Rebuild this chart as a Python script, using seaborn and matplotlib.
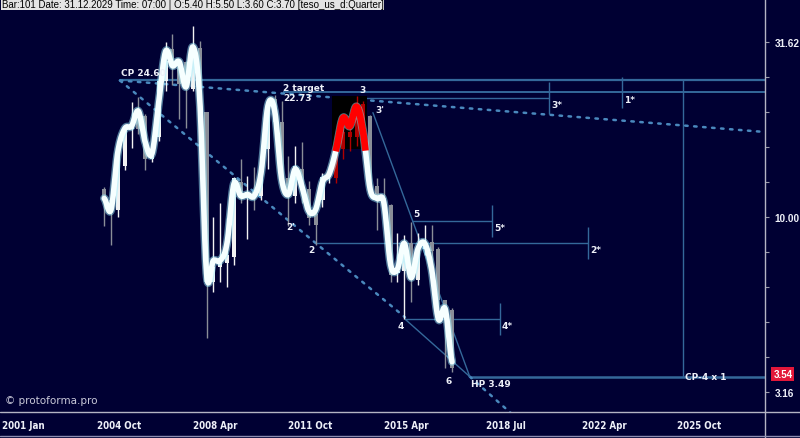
import numpy as np
import matplotlib
matplotlib.use("Agg")
import matplotlib.pyplot as plt
import seaborn as sns

# quarterly bars, x = quarter index counted from 2001 Jan
bar_idx = list(range(15, 67))
opens = [12.0, 11.2, 10.5, 14.0, 17.9, 20.1, 19.5, 14.7, 17.0, 24.5, 30.3, 27.0, 27.7, 23.3, 30.4,
         20.0, 6.5, 7.2, 7.4, 7.7, 12.6, 11.3, 11.8, 11.5, 15.7, 21.8, 18.7, 12.9, 11.5, 13.7,
         12.0, 10.2, 11.2, 13.0, 12.9, 15.7, 17.5, 17.0, 21.0, 19.4, 12.3, 11.3, 10.8, 6.9, 7.0,
         8.4, 6.6, 8.1, 8.5, 8.1, 5.8, 5.4]
highs = [12.2, 11.6, 16.0, 18.2, 21.4, 22.0, 19.7, 16.2, 24.8, 31.8, 33.4, 27.7, 28.0, 35.3, 32.0,
         20.0, 10.0, 11.0, 9.9, 13.0, 14.7, 13.1, 13.9, 14.7, 21.8, 22.3, 21.5, 14.9, 16.0, 16.4,
         12.7, 10.4, 13.4, 14.0, 16.0, 18.5, 19.5, 22.2, 21.5, 19.6, 12.9, 12.9, 10.9, 9.0, 8.9,
         9.7, 9.0, 9.5, 9.5, 8.2, 5.8, 5.5]
lows = [9.4, 8.3, 10.0, 13.6, 15.8, 17.3, 13.6, 14.4, 16.5, 23.0, 23.8, 19.1, 18.0, 23.0, 23.0,
        4.5, 6.1, 6.5, 6.3, 7.3, 11.0, 8.65, 10.5, 11.2, 13.7, 18.0, 12.5, 9.4, 11.0, 11.0,
        9.5, 8.3, 10.7, 12.5, 12.5, 14.7, 15.5, 16.0, 15.5, 11.5, 9.2, 10.5, 6.5, 6.5, 5.1,
        5.7, 6.4, 7.8, 7.2, 5.5, 3.7, 3.6]
closes = [11.2, 10.6, 15.8, 17.9, 18.5, 17.9, 14.7, 15.5, 24.5, 28.0, 27.1, 24.0, 23.3, 30.6, 23.7,
          6.5, 7.2, 7.4, 7.8, 12.9, 11.3, 11.8, 11.5, 12.9, 21.2, 18.7, 12.9, 11.5, 14.0, 12.0,
          9.9, 9.5, 13.0, 13.2, 15.7, 17.5, 17.0, 21.0, 17.0, 12.0, 11.3, 11.0, 6.8, 7.0, 8.4,
          7.0, 8.1, 8.5, 8.0, 5.8, 5.3, 3.7]
# smoothed line drawn over the candles
smooth = [11.3, 10.5, 15.4, 17.9, 18.2, 20.1, 16.4, 15.2, 21.4, 29.8, 27.1, 27.8, 23.6, 30.7, 21.8,
          6.9, 7.5, 7.5, 8.4, 12.4, 11.5, 11.6, 11.5, 13.4, 20.8, 20.1, 12.9, 11.6, 13.7, 12.2,
          10.4, 10.5, 12.6, 13.3, 15.6, 19.2, 18.2, 20.7, 17.3, 12.0, 11.3, 11.0, 7.3, 7.1, 8.4,
          6.7, 8.1, 8.4, 7.1, 5.1, 5.45, 3.85]

tick_pos = [0, 14, 28, 42, 56, 71, 85, 99]
tick_labels = ["2001 Jan", "2004 Oct", "2008 Apr", "2011 Oct", "2015 Apr", "2018 Jul", "2022 Apr", "2025 Oct"]
price_ticks = [3.16, 10.0, 31.62]
price_labels = ["3.16", "10.00", "31.62"]

# pattern points (index, price)
cp = (17.3, 24.60)
target = (41.2, 22.73)
p3 = (52.6, 21.9)
p3s = (54.4, 19.9)
p2 = (46.0, 8.42)
p4 = (59.1, 5.10)
p5 = (60.1, 9.74)
hp = (68.6, 3.49)
fan_pt = (53.5, 21.6)
star5, star4, star2, star3, star1, cp4_x = 71.9, 73.0, 85.9, 80.2, 90.9, 99.9
red_zone = (48.4, 53.5, 15.7, 22.2)
last_price = 3.54

BG = "#000033"
LINE = "#34689a"
DOT = "#4a88bd"
TXT = "#eef0f8"

sns.set_style("dark")
plt.rcParams["font.family"] = ["DejaVu Sans"]

fig = plt.figure(figsize=(8, 4.39), dpi=100, facecolor=BG)
ax = fig.add_axes([0, 26 / 439, 765 / 800, 413 / 439])
ax.set_facecolor(BG)
ax.set_yscale("log")
ax.set_xlim(-0.29, 111.9)
ax.set_ylim(2.763, 42.1)
for s in ax.spines.values():
    s.set_visible(False)
ax.grid(False)


def ext(p, q, x):
    # straight line in log space through p and q, evaluated at x
    k = (np.log10(q[1]) - np.log10(p[1])) / (q[0] - p[0])
    return 10 ** (np.log10(p[1]) + k * (x - p[0]))


# levels
ax.hlines(cp[1], cp[0], 111.9, color=LINE, lw=1.6, zorder=1)
ax.hlines(target[1], target[0], 111.9, color=LINE, lw=1.4, zorder=1)
ax.hlines(p3[1], p3[0] + 0.8, star3, color=LINE, lw=1.0, zorder=1)
ax.hlines(p5[1], p5[0], star5, color=LINE, lw=1.0, zorder=1)
ax.hlines(p2[1], p2[0], star2, color=LINE, lw=1.0, zorder=1)
ax.hlines(p4[1], p4[0], star4, color=LINE, lw=1.0, zorder=1)
ax.hlines(hp[1], hp[0], 111.9, color=LINE, lw=1.8, zorder=1)
ax.vlines(cp4_x, hp[1], cp[1], color=LINE, lw=1.0, zorder=1)
for xs, yv in [(star5, p5[1]), (star4, p4[1]), (star2, p2[1]), (star3, p3[1]), (star1, target[1])]:
    ax.vlines(xs, yv / 1.11, yv * 1.11, color=LINE, lw=1.0, zorder=1)

# fan lines
xf = np.array([cp[0], 111.9])
ax.plot(xf, ext(cp, fan_pt, xf), color=DOT, lw=1.8, ls=(0, (1, 2.6)), dash_capstyle="round", zorder=1)
xa = np.array([cp[0], p4[0]])
ax.plot(xa, ext(cp, p2, xa), color=DOT, lw=1.8, ls=(0, (1, 2.6)), dash_capstyle="round", zorder=1)
xb = np.array([p4[0], hp[0]])
ax.plot(xb, [p4[1], hp[1]], color=LINE, lw=1.0, zorder=1)
xc = np.array([hp[0], 75.4])
ax.plot(xc, ext(p4, hp, xc), color=DOT, lw=1.8, ls=(0, (1, 2.6)), dash_capstyle="round", zorder=1)
ax.plot([p3s[0], hp[0]], [p3s[1], hp[1]], color=LINE, lw=1.0, zorder=1)

# red zone box
ax.fill_between([red_zone[0], red_zone[1]], red_zone[2], red_zone[3], color="black", lw=0, zorder=1.5)

# candles
o = np.array(opens); h = np.array(highs); l = np.array(lows); c = np.array(closes)
xi = np.array(bar_idx, dtype=float)
in_red = (xi > red_zone[0]) & (xi < red_zone[1])
up = c >= o
cols = np.where(in_red, "#b00000", np.where(up, "#f2f2f2", "#8a8e98"))
ax.vlines(xi, l, h, colors=cols, lw=1.0, zorder=2)
lo = np.minimum(o, c); hi = np.maximum(o, c)
hi = np.maximum(hi, lo * 1.01)
ax.bar(xi, hi - lo, bottom=lo, width=0.6, color=cols, lw=0, zorder=2)

# smoothed curve (Catmull-Rom through the smooth values)
ly = np.log10(smooth)
ye = np.concatenate([[ly[0]], ly, [ly[-1]]])
sx, sy = [], []
for k in range(len(ly) - 1):
    p0, p1, p2_, p3_ = ye[k], ye[k + 1], ye[k + 2], ye[k + 3]
    t = np.linspace(0, 1, 16, endpoint=False)
    yy = 0.5 * (2 * p1 + (-p0 + p2_) * t + (2 * p0 - 5 * p1 + 4 * p2_ - p3_) * t ** 2
                + (-p0 + 3 * p1 - 3 * p2_ + p3_) * t ** 3)
    sx.extend(xi[k] + t)
    sy.extend(yy)
sx.append(xi[-1]); sy.append(ly[-1])
sx = np.array(sx); sy = 10 ** np.array(sy)
sns.lineplot(x=sx, y=sy, ax=ax, sort=False, estimator=None, color="#9fefff", lw=6.0, alpha=0.5, zorder=3)
sns.lineplot(x=sx, y=sy, ax=ax, sort=False, estimator=None, color="#f6ffff", lw=4.0, zorder=3.1)
mask = (sx >= red_zone[0]) & (sx <= red_zone[1]) & (sy >= red_zone[2] * 0.98)
red_y = np.where(mask, sy, np.nan)
ax.plot(sx, red_y, color="#ff0000", lw=4.8, zorder=3.2, solid_capstyle="butt")
ax.set_xlabel("")
ax.set_ylabel("")

# labels
lab = dict(color=TXT, fontsize=6.5, fontweight="bold", zorder=5)
ax.text(cp[0] + 0.2, cp[1] * 1.02, "CP 24.60", ha="left", va="bottom", **lab)
ax.text(target[0], target[1] * 1.005, "2 target", ha="left", va="bottom", **lab)
ax.text(target[0], target[1] * 0.995, "22.73", ha="left", va="top", **lab)
ax.text(p3[0] + 0.2, p3[1] * 1.03, "3", ha="center", va="bottom", **lab)
ax.text(p3s[0] + 0.3, p3s[1] * 1.02, "3'", ha="left", va="center", **lab)
ax.text(41.7, 9.4, "2'", ha="left", va="center", **lab)
ax.text(p2[0] - 0.2, p2[1] * 0.985, "2", ha="right", va="top", **lab)
ax.text(p4[0] - 0.2, p4[1] * 0.985, "4", ha="right", va="top", **lab)
ax.text(p5[0] + 0.2, p5[1] * 1.02, "5", ha="left", va="bottom", **lab)
ax.text(65.5, 3.5, "6", ha="center", va="top", **lab)
ax.text(hp[0] + 0.2, hp[1] * 0.985, "HP 3.49", ha="left", va="top", **lab)
ax.text(cp4_x + 0.2, hp[1], "CP-4 x 1", ha="left", va="center", **lab)
for xs, yv, t in [(star5, p5[1], "5*"), (star4, p4[1], "4*"), (star2, p2[1], "2*"),
                  (star3, p3[1], "3*"), (star1, target[1], "1*")]:
    ax.text(xs + 0.3, yv * 0.985, t, ha="left", va="top", **lab)

# axes ticks
ax.yaxis.tick_right()
ax.set_yticks([10 ** (v / 10) for v in range(5, 16) if v not in (5, 10, 15)], minor=True)
ax.yaxis.set_minor_formatter(matplotlib.ticker.NullFormatter())
ax.tick_params(axis="y", which="both", colors="#9a9aa8", length=3, width=0.8, pad=4,
               labelcolor=TXT)
ax.set_yticks(price_ticks)
ax.set_yticklabels(price_labels, fontsize=7.2, fontweight="bold",
                   family=["Liberation Sans", "DejaVu Sans"], color=TXT)
ax.tick_params(axis="x", colors="#30304a", length=2, pad=4, labelcolor=TXT)
ax.set_xticks(tick_pos)
ax.set_xticklabels(tick_labels, fontsize=7.0, fontweight="bold", fontstretch="condensed",
                   family=["Liberation Sans Narrow", "DejaVu Sans"], color=TXT, ha="left")

ax.text(1.011, last_price, "3.54", transform=ax.get_yaxis_transform(), ha="left", va="center",
        color="white", fontsize=7.0, fontweight="bold", clip_on=False,
        family=["Liberation Sans", "DejaVu Sans"],
        bbox=dict(boxstyle="square,pad=0.2", fc="#e3173a", ec="none"))

# frame lines
fig.add_artist(plt.Line2D([765 / 800, 765 / 800], [0, 1], color="#b4b4c4", lw=1.0))
fig.add_artist(plt.Line2D([0, 1], [26 / 439, 26 / 439], color="#b4b4c4", lw=1.0))
fig.add_artist(plt.Line2D([0, 1], [2 / 439, 2 / 439], color="#8c8cb0", lw=1.0))

fig.text(5 / 800, 1 - 401 / 439, "\u00a9 protoforma.pro", ha="left", va="center",
         color="#c8c8d8", fontsize=7.5)
fig.text(0.002, 0.999, "Bar:101 Date: 31.12.2029 Time: 07:00 | O:5.40 H:5.50 L:3.60 C:3.70 [teso_us_d:Quarter]",
         ha="left", va="top", color="black", fontsize=7.0, family=["Liberation Sans", "DejaVu Sans"],
         bbox=dict(boxstyle="square,pad=0.1", fc="#e4e4e4", ec="none"))

fig.savefig("out.png", dpi=100, facecolor=BG)
